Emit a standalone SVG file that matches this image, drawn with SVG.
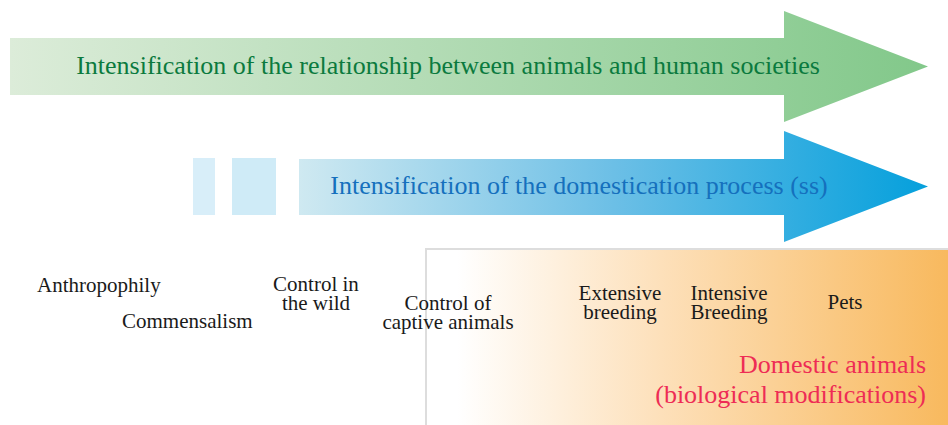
<svg xmlns="http://www.w3.org/2000/svg" width="948" height="425" viewBox="0 0 948 425">
<defs>
<linearGradient id="gGreen" x1="10" y1="0" x2="928" y2="0" gradientUnits="userSpaceOnUse">
<stop offset="0" stop-color="#dcecd9"/>
<stop offset="1" stop-color="#82c88a"/>
</linearGradient>
<linearGradient id="gBlue" x1="299" y1="0" x2="928" y2="0" gradientUnits="userSpaceOnUse">
<stop offset="0" stop-color="#cfe9f1"/>
<stop offset="0.5" stop-color="#6cbfe6"/>
<stop offset="1" stop-color="#05a0dc"/>
</linearGradient>
<linearGradient id="gOrange" x1="426" y1="0" x2="948" y2="0" gradientUnits="userSpaceOnUse">
<stop offset="0" stop-color="#ffffff"/>
<stop offset="0.06" stop-color="#ffffff"/>
<stop offset="0.45" stop-color="#fde0ba"/>
<stop offset="1" stop-color="#f8b95e"/>
</linearGradient>
<style>
.lbl{font-size:21px;fill:#1a1a1a;}
.mid{text-anchor:middle;}
.big{font-size:26px;text-anchor:middle;}
.red{font-size:26px;fill:#ee2c55;text-anchor:end;}
</style>
</defs>
<g font-family="Liberation Serif, Times New Roman, serif">
<g id="domestic-box">
<rect x="426" y="249" width="530" height="190" fill="url(#gOrange)" stroke="#dddddd" stroke-width="2"/>
</g>
<g id="arrow-relationship">
<polygon points="10,38 784,38 784,11 928,66.5 784,122 784,95 10,95" fill="url(#gGreen)"/>
<text class="big" x="448" y="74" fill="#0b7a3e">Intensification of the relationship between animals and human societies</text>
</g>
<g id="arrow-domestication">
<rect x="193" y="158" width="22" height="57" fill="#d8eef9"/>
<rect x="232" y="158" width="44" height="57" fill="#cfebf7"/>
<polygon points="299,159 784,159 784,131 928,186.5 784,242 784,215 299,215" fill="url(#gBlue)"/>
<text class="big" x="579" y="194" fill="#1570bd">Intensification of the domestication process (ss)</text>
</g>
<g id="connectors"></g>
<g id="stage-anthropophily"><text class="lbl" x="37" y="292">Anthropophily</text></g>
<g id="stage-commensalism"><text class="lbl" x="122" y="328">Commensalism</text></g>
<g id="stage-control-wild"><text class="lbl mid" x="316" y="291">Control in</text><text class="lbl mid" x="316" y="310">the wild</text></g>
<g id="stage-control-captive"><text class="lbl mid" x="448" y="310">Control of</text><text class="lbl mid" x="448" y="329">captive animals</text></g>
<g id="stage-extensive"><text class="lbl mid" x="620" y="300">Extensive</text><text class="lbl mid" x="620" y="319">breeding</text></g>
<g id="stage-intensive"><text class="lbl mid" x="729" y="300">Intensive</text><text class="lbl mid" x="729" y="319">Breeding</text></g>
<g id="stage-pets"><text class="lbl mid" x="845" y="309">Pets</text></g>
<g id="domestic-label">
<text class="red" x="926" y="373">Domestic animals</text>
<text class="red" x="926" y="403">(biological modifications)</text>
</g>
</g>
</svg>
